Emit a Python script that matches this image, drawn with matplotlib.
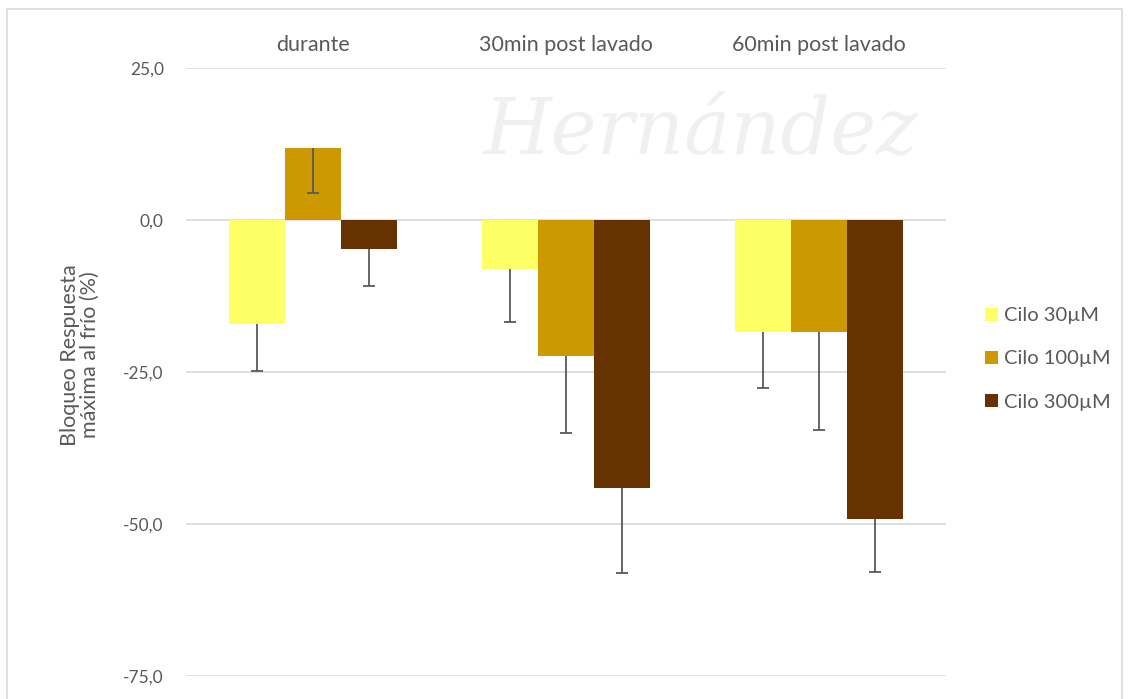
import matplotlib
matplotlib.use("Agg")
import matplotlib.pyplot as plt
import numpy as np
from matplotlib.patches import Rectangle

plt.rcParams['font.family'] = ['Lato', 'DejaVu Sans']

# data
categories = ["durante", "30min post lavado", "60min post lavado"]
series_names = ["Cilo 30µM", "Cilo 100µM", "Cilo 300µM"]
cilo_30 = [-17.1, -8.1, -18.5]
cilo_30_err = [7.7, 8.6, 9.2]
cilo_100 = [11.8, -22.4, -18.4]
cilo_100_err = [7.3, 12.6, 16.1]
cilo_300 = [-4.8, -44.0, -49.2]
cilo_300_err = [6.1, 14.1, 8.7]
y_ticks = [25, 0, -25, -50, -75]

colors = ["#FFFF66", "#CC9900", "#663300"]
text_col = "#595959"

W, H = 1130, 699
fig = plt.figure(figsize=(W / 100, H / 100), dpi=100)
ax = fig.add_axes([186 / W, 1 - 676 / H, (946 - 186) / W, (676 - 68) / H])

x = np.arange(len(categories))
bw = 0.221
series = [(cilo_30, cilo_30_err), (cilo_100, cilo_100_err), (cilo_300, cilo_300_err)]
for i, (vals, errs) in enumerate(series):
    pos = x + (i - 1) * bw
    vals = np.array(vals)
    ends = vals - np.array(errs)
    ax.bar(pos, vals, width=bw, color=colors[i], label=series_names[i], zorder=2)
    # minus-only error bars, cap only at the far end
    ax.vlines(pos, vals, ends, color=text_col, linewidth=1.3, zorder=3)
    ax.plot(pos, ends, ls='none', marker='_', markersize=8, mew=1.3, color=text_col, zorder=3)

ax.set_xlim(-0.5, 2.5)
ax.set_ylim(-75, 25)
ax.set_yticks(y_ticks)
ax.set_yticklabels([f"{v:.1f}".replace(".", ",") for v in y_ticks])
ax.grid(axis='y', color="#D9D9D9", linewidth=1.2, zorder=0)
ax.set_axisbelow(True)
for s in ax.spines.values():
    s.set_visible(False)
ax.tick_params(axis='y', length=0, pad=16, labelsize=12.5, labelcolor=text_col)
ax.set_xticks([])

# category labels sit above the plot area
for xi, cat in zip(x, categories):
    ax.text(xi, 28.8, cat, ha='center', va='center', fontsize=15.5, color=text_col)

ax.set_ylabel("Bloqueo Respuesta\nmáxima al frío (%)", fontsize=15.5, color=text_col,
              linespacing=1.0)
ax.yaxis.set_label_coords(-0.113, 0.528)

leg = fig.legend(loc='center left', bbox_to_anchor=(967 / W, 1 - 359 / H), frameon=False,
                 fontsize=14.5, labelcolor=text_col, handlelength=0.65, handleheight=0.65,
                 handletextpad=0.3, labelspacing=1.3)

# chart area border
fig.patches.append(Rectangle((7 / W, -0.05), (1122 - 7) / W, 1 - 9 / H + 0.05,
                             transform=fig.transFigure, fill=False, edgecolor="#D9D9D9",
                             linewidth=1.2))

# faint watermark of the repository
fig.text(700 / W, 1 - 132 / H, "Hernández", fontsize=56, style='italic', color="#000000",
         alpha=0.06, ha='center', va='center', family='DejaVu Serif')

fig.savefig("out.png", dpi=100)
